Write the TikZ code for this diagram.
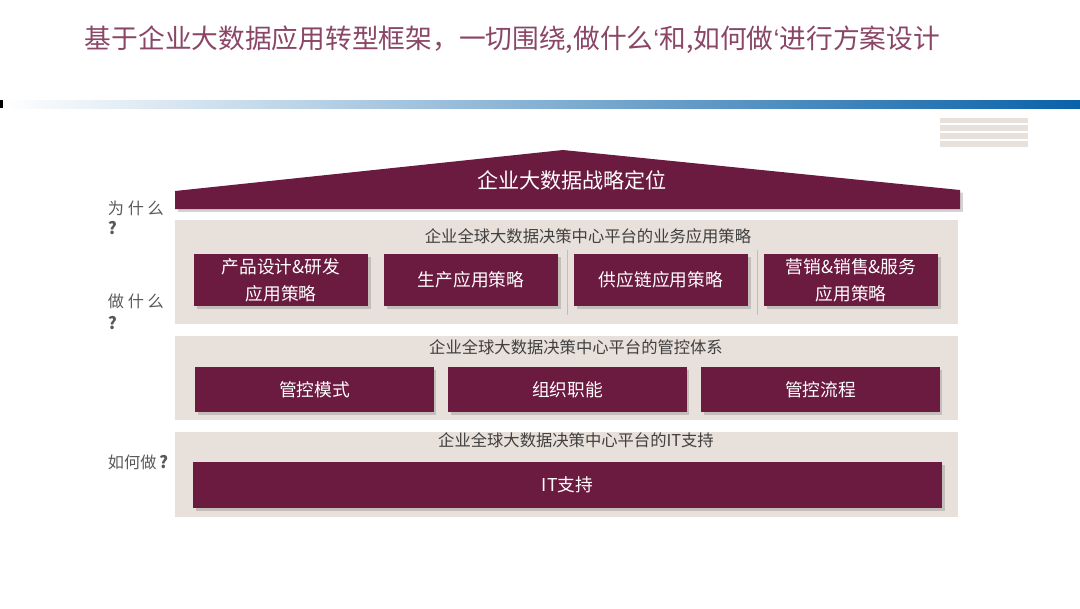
\documentclass[tikz,border=0pt]{standalone}
\usepackage{fontspec}
\setmainfont{Noto Sans CJK SC}
\newfontfamily\latinfont{Liberation Sans}
\usetikzlibrary{shadows}
\definecolor{maroon}{RGB}{107,26,64}
\definecolor{beige}{RGB}{232,224,218}
\definecolor{titlecol}{RGB}{138,70,102}
\definecolor{bardark}{RGB}{10,98,168}
\definecolor{barmid}{RGB}{160,192,226}
\newcommand{\tq}{{\latinfont ‘}}
\tikzset{
  box/.style={fill=maroon,text=white,align=center,inner sep=0pt,
    font=\fontsize{12.6}{19}\selectfont,
    drop shadow={opacity=0.35,shadow xshift=2pt,shadow yshift=-2pt}},
  heading/.style={text=black!75,font=\fontsize{11.6}{14}\selectfont},
  why/.style={anchor=west,text=black!65,font=\fontsize{11.5}{13}\selectfont}
}
\begin{document}
\begin{tikzpicture}[x=0.025cm,y=-0.025cm]
\useasboundingbox (0,0) rectangle (1080,608);
\node[anchor=west,text=titlecol,font=\fontsize{19}{22}\selectfont] (title) at (80,40) {基于企业大数据应用转型框架，一切围绕,做什么\tq 和,如何做\tq 进行方案设计};
\shade[left color=white,middle color=barmid,right color=bardark] (0,100) rectangle (1080,108);
\fill[black] (0,100) rectangle (3,108);
\fill[beige] (940,118) rectangle (1028,147);
\foreach \y in {124,132,140} \draw[white,line width=0.8pt] (940,\y)--(1028,\y);
\fill[maroon,drop shadow={opacity=0.35,shadow xshift=2pt,shadow yshift=-2pt}] (175,191)--(563,150)--(960,190)--(960,209)--(175,209)--cycle;
\node[text=white,font=\fontsize{15}{17}\selectfont] (roof) at (572,180) {企业大数据战略定位};
\foreach \a/\b in {220/324,336/420,432/517} \fill[beige] (175,\a) rectangle (958,\b);
\node[heading] (h1) at (588,236) {企业全球大数据决策中心平台的业务应用策略};
\node[heading] (h2) at (576,347) {企业全球大数据决策中心平台的管控体系};
\node[heading] (h3) at (576,440) {企业全球大数据决策中心平台的IT支持};
\foreach \x in {567,757} \draw[black!25,line width=0.6pt] (\x,250)--(\x,315);
\foreach \i/\t in {0/{产品设计\&研发\\应用策略},1/生产应用策略,2/供应链应用策略,3/{营销\&销售\&服务\\应用策略}}
  \node[box,minimum width=4.35cm,minimum height=1.3cm] (s\i) at (281+\i*190,280) {\t};
\foreach \i/\t in {0/管控模式,1/组织职能,2/管控流程}
  \node[box,minimum width=5.95cm,minimum height=1.125cm] (g\i) at (314.5+\i*253,389.5) {\t};
\node[box,minimum width=18.73cm,minimum height=1.15cm] (it) at (567.5,485) {IT支持};
\node[why] (w1) at (103,208) {为 什 么};
\node[why,font=\bfseries\large] (q1) at (103,228) {?};
\node[why] (w2) at (103,301) {做 什 么};
\node[why,font=\bfseries\large] (q2) at (103,323) {?};
\node[why] (w3) at (103,462) {如何做\,\textbf{\large ?}};
\end{tikzpicture}
\end{document}
